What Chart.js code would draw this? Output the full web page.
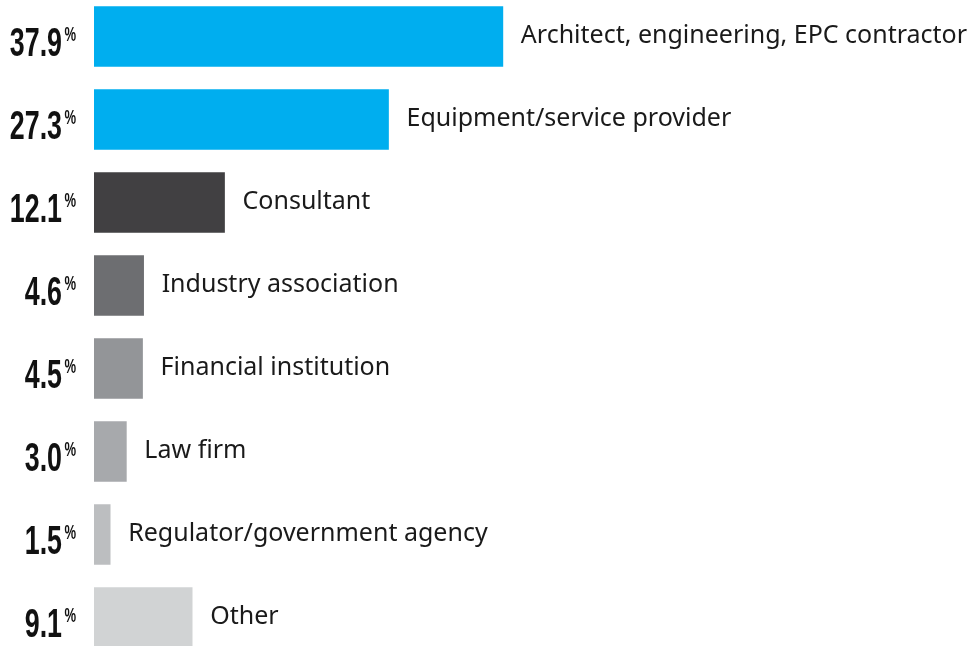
<!DOCTYPE html>
<html>
<head>
<meta charset="utf-8">
<script src="https://cdn.jsdelivr.net/npm/chart.js@4/dist/chart.umd.min.js"></script>
<style>
  html, body { margin: 0; padding: 0; background: #fff; overflow: hidden; }
  #wrap { position: absolute; left: 0; top: -5px; width: 970px; height: 664px; }
</style>
</head>
<body>
<div id="wrap"><canvas id="myCanvas" width="970" height="664"></canvas></div>
<script>
const categories = [
  'Architect, engineering, EPC contractor',
  'Equipment/service provider',
  'Consultant',
  'Industry association',
  'Financial institution',
  'Law firm',
  'Regulator/government agency',
  'Other'
]
const shares = [37.9, 27.3, 12.1, 4.6, 4.5, 3.0, 1.5, 9.1]
const barColors = ['#00aeef', '#00aeef', '#414042', '#6d6e71', '#939598', '#a7a9ac', '#bcbec0', '#d1d3d4']

const labelPlugin = {
  id: 'barLabels',
  afterDatasetsDraw(chart) {
    const ctx = chart.ctx
    const meta = chart.getDatasetMeta(0)
    meta.data.forEach((bar, i) => {
      const y = bar.y
      // category name right of the bar
      ctx.save()
      ctx.fillStyle = '#1a1a1a'
      ctx.font = '25px "Noto Sans"'
      ctx.textAlign = 'left'
      ctx.textBaseline = 'middle'
      ctx.fillText(categories[i], bar.x + 18, y - 1)
      ctx.restore()

      // value on the left, condensed bold
      ctx.save()
      ctx.fillStyle = '#111'
      ctx.font = 'bold 40px "Liberation Sans"'
      ctx.textAlign = 'right'
      ctx.textBaseline = 'alphabetic'
      ctx.translate(62, y + 19)
      ctx.scale(0.67, 1)
      ctx.fillText(shares[i].toFixed(1), 0, 0)
      ctx.restore()

      ctx.save()
      ctx.fillStyle = '#111'
      ctx.font = 'bold 21px "Liberation Sans"'
      ctx.textAlign = 'left'
      ctx.textBaseline = 'alphabetic'
      ctx.translate(64.5, y + 4)
      ctx.scale(0.62, 1)
      ctx.fillText('%', 0, 0)
      ctx.restore()
    })
  }
}

const context = document.getElementById('myCanvas').getContext('2d')

new Chart(context, {
  type: 'bar',
  data: {
    labels: categories,
    datasets: [{
      data: shares,
      backgroundColor: barColors,
      borderWidth: 0,
      barThickness: 60
    }]
  },
  options: {
    indexAxis: 'y',
    responsive: false,
    animation: false,
    layout: { padding: { left: 94, right: 0, top: 0, bottom: 0 } },
    plugins: {
      legend: { display: false },
      tooltip: { enabled: false }
    },
    scales: {
      x: { display: false, min: 0, max: 81.2 },
      y: { display: false }
    }
  },
  plugins: [labelPlugin]
})
</script>
</body>
</html>
